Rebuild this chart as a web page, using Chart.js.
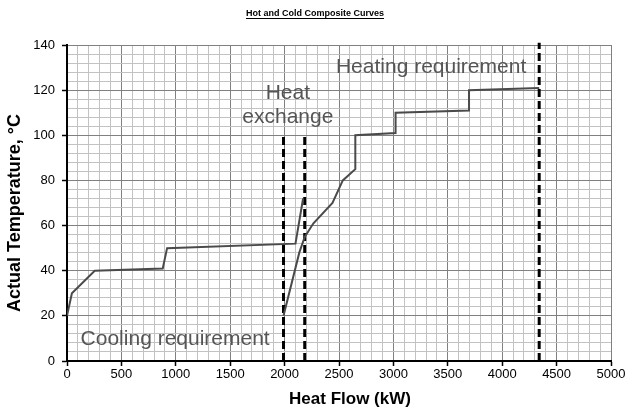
<!DOCTYPE html>
<html>
<head>
<meta charset="utf-8">
<script src="https://cdn.jsdelivr.net/npm/chart.js@4.4.1/dist/chart.umd.min.js"></script>
<style>
    html, body { margin: 0; padding: 0; background: #fff; }
    #chart { display: block; }
</style>
</head>
<body>
<canvas id="chart" width="639" height="413"></canvas>
<script>
// ==========================================
// DATA
// ==========================================
const hotFlow = [0, 45, 255, 880, 920, 2100, 2170];
const hotTemp = [20, 30, 40, 41, 50, 52, 72];

const coldFlow = [1990, 2135, 2185, 2265, 2440, 2535, 2650, 2650, 3020, 3020, 3695, 3695, 4340];
const coldTemp = [20, 48, 55, 61, 70, 80, 85, 100, 101, 110, 111, 120, 121];

// vertical dashed boundaries (heat flow, top temperature)
const boundaryFlow = [1990, 2185, 4340];
const boundaryTop = [101, 101, 141];

const xMajor = 500, xMinor = 100, xMax = 5000;
const yMajor = 20, yMinor = 4, yMax = 140;

// text notes placed in data units
const notes = [
    { text: 'Cooling requirement', x: 125, y: 7, align: 'left' },
    { text: 'Heating requirement', x: 2472, y: 127.5, align: 'left' },
    { text: 'Heat', x: 2030, y: 116, align: 'center' },
    { text: 'exchange', x: 2030, y: 105.6, align: 'center' }
];

const toPoints = (xs, ys) => xs.map((x, i) => ({ x: x, y: ys[i] }));

const curveStyle = {
    borderColor: '#4a4a4a',
    borderWidth: 2,
    pointRadius: 0,
    tension: 0,
    fill: false
};

const datasets = [
    Object.assign({ label: 'Hot', data: toPoints(hotFlow, hotTemp) }, curveStyle),
    Object.assign({ label: 'Cold', data: toPoints(coldFlow, coldTemp) }, curveStyle)
];

boundaryFlow.forEach((x, i) => {
    datasets.push({
        label: 'Boundary ' + (i + 1),
        data: [{ x: x, y: 0 }, { x: x, y: boundaryTop[i] }],
        borderColor: '#000',
        borderWidth: 3,
        borderDash: [8, 4],
        pointRadius: 0,
        clip: false
    });
});

// ==========================================
// TEXT PLUGIN (notes, axis titles, title)
// ==========================================
const textPlugin = {
    id: 'texts',
    afterDatasetsDraw(chart) {
        const { ctx, scales } = chart;
        ctx.save();

        // notes
        ctx.fillStyle = '#555';
        ctx.font = '21px "Liberation Sans", Arial, sans-serif';
        ctx.textBaseline = 'alphabetic';
        notes.forEach(n => {
            ctx.textAlign = n.align;
            ctx.fillText(n.text, scales.x.getPixelForValue(n.x), scales.y.getPixelForValue(n.y));
        });

        // axis titles
        ctx.fillStyle = '#000';
        ctx.font = 'bold 17px "Liberation Sans", Arial, sans-serif';
        ctx.textAlign = 'center';
        ctx.fillText('Heat Flow (kW)', 350, 404);

        ctx.save();
        ctx.translate(20, 213);
        ctx.rotate(-Math.PI / 2);
        ctx.font = 'bold 18px "Liberation Sans", Arial, sans-serif';
        ctx.fillText('Actual Temperature, °C', 0, 0);
        ctx.restore();

        // chart title, underlined
        const title = 'Hot and Cold Composite Curves';
        ctx.font = 'bold 9px "Liberation Sans", Arial, sans-serif';
        ctx.textAlign = 'center';
        const cx = 315, ty = 16;
        ctx.fillText(title, cx, ty);
        const w = ctx.measureText(title).width;
        ctx.fillRect(cx - w / 2, ty + 2, w, 1);

        ctx.restore();
    }
};

// ==========================================
// CHART
// ==========================================
const isMajorX = v => v % xMajor === 0;
const isMajorY = v => v % yMajor === 0;

new Chart(document.getElementById('chart'), {
    type: 'line',
    data: { datasets: datasets },
    plugins: [textPlugin],
    options: {
        responsive: false,
        animation: false,
        devicePixelRatio: 1,
        layout: { padding: { left: 0, right: 28, top: 45, bottom: 0 } },
        plugins: {
            legend: { display: false },
            tooltip: { enabled: false }
        },
        scales: {
            x: {
                type: 'linear',
                min: 0,
                max: xMax,
                afterFit: scale => { scale.height = 52; },
                border: { color: '#000', width: 2 },
                grid: {
                    color: c => isMajorX(c.tick.value) ? '#808080' : '#c2c2c2',
                    lineWidth: 1,
                    tickLength: 5,
                    tickColor: c => isMajorX(c.tick.value) ? '#000' : 'rgba(0,0,0,0)',
                    tickWidth: 1.5
                },
                ticks: {
                    stepSize: xMinor,
                    autoSkip: false,
                    maxRotation: 0,
                    minRotation: 0,
                    padding: 1,
                    color: '#000',
                    font: { family: '"Liberation Sans", Arial, sans-serif', size: 13 },
                    callback: v => isMajorX(v) ? String(v) : ''
                }
            },
            y: {
                type: 'linear',
                min: 0,
                max: yMax,
                afterFit: scale => { scale.width = 67; },
                border: { color: '#000', width: 2 },
                grid: {
                    color: c => isMajorY(c.tick.value) ? '#808080' : '#c2c2c2',
                    lineWidth: 1,
                    tickLength: 5,
                    tickColor: c => isMajorY(c.tick.value) ? '#000' : 'rgba(0,0,0,0)',
                    tickWidth: 1.5
                },
                ticks: {
                    stepSize: yMinor,
                    autoSkip: false,
                    padding: 7,
                    color: '#000',
                    font: { family: '"Liberation Sans", Arial, sans-serif', size: 13 },
                    callback: v => isMajorY(v) ? String(v) : ''
                }
            }
        }
    }
});
</script>
</body>
</html>
